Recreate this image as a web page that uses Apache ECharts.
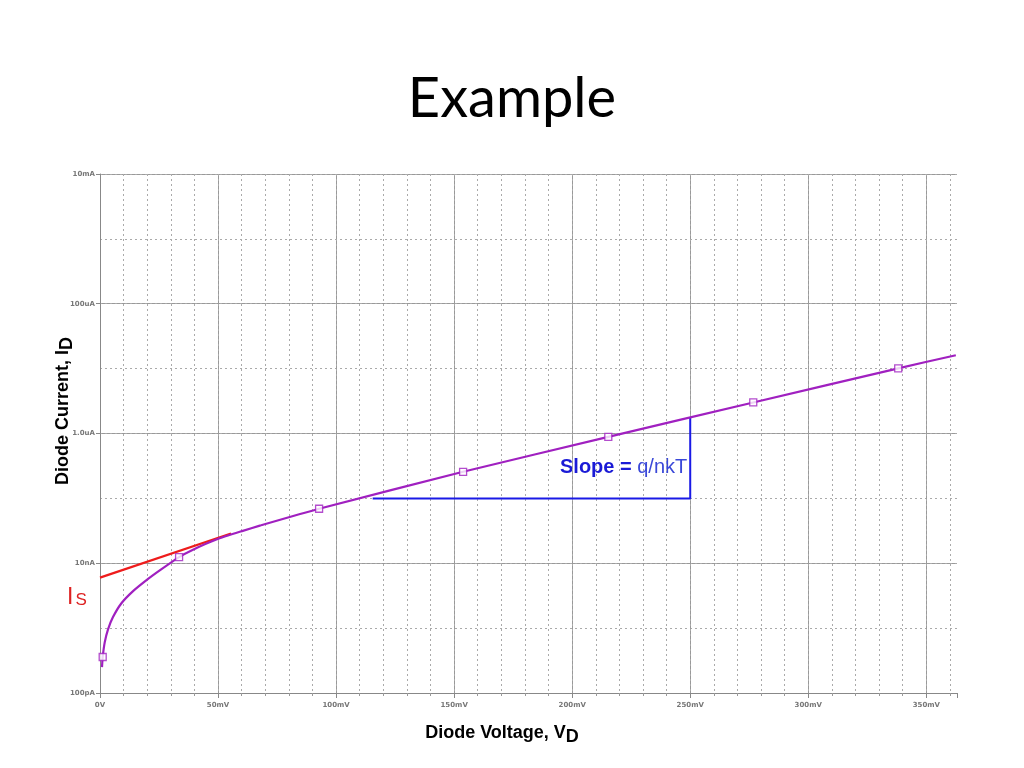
<!DOCTYPE html>
<html>
<head>
<meta charset="utf-8">
<script src="https://cdn.jsdelivr.net/npm/echarts@6/dist/echarts.min.js"></script>
<style>
html,body{margin:0;padding:0;background:#fff;}
#chart{width:1024px;height:768px;}
</style>
</head>
<body>
<div id="chart"></div>
<script>
// Data (voltage in mV, current in A)
const voltages = [0.85, 1.14, 2.0, 3.4, 5.5, 9.0, 14.0, 19.7, 25.3, 33.5, 39.4, 49.3, 60.5, 67.7, 92.8, 153.8, 215.3, 276.7, 338.1, 362.5];
const currents = [2.51e-10, 3.59e-10, 6.03e-10, 9.55e-10, 1.48e-9, 2.40e-9, 3.72e-9, 5.50e-9, 7.76e-9, 1.245e-8, 1.62e-8, 2.32e-8, 3.16e-8, 3.80e-8, 6.92e-8, 2.57e-7, 8.89e-7, 3.01e-6, 1.01e-5, 1.61e-5];
const markerIndices = [1, 9, 14, 15, 16, 17, 18];
// Is extrapolation line (tangent)
const isLineV = [0, 55.5];
const isLineI = [6.0e-9, 2.87e-8];
// Slope triangle
const slopeV = [115.5, 250, 250];
const slopeI = [1.0e-7, 1.0e-7, 1.79e-6];
const xTickLabels = ['0V', '50mV', '100mV', '150mV', '200mV', '250mV', '300mV', '350mV'];
const yTickLabels = {'-10': '100pA', '-8': '10nA', '-6': '1.0uA', '-4': '100uA', '-2': '10mA'};

const curve = voltages.map((v, i) => [v, currents[i]]);
const markers = markerIndices.map(i => [voltages[i], currents[i]]);
const isLine = isLineV.map((v, i) => [v, isLineI[i]]);
const slopeLine = slopeV.map((v, i) => [v, slopeI[i]]);

const chart = echarts.init(document.getElementById('chart'));
const tickFont = {fontSize: 7, fontWeight: 'bold', color: '#777', fontFamily: 'DejaVu Sans'};
chart.setOption({
  animation: false,
  backgroundColor: '#fff',
  title: {
    text: 'Example', left: 'center', top: 66,
    textStyle: {fontFamily: 'Lato', fontWeight: 'normal', fontSize: 56, color: '#000'}
  },
  grid: {left: 100, right: 67, top: 174, bottom: 75},
  xAxis: [{
    type: 'value', min: 0, max: 363, interval: 50,
    axisLine: {lineStyle: {color: '#888'}},
    axisTick: {show: true, length: 5, lineStyle: {color: '#888'}},
    minorTick: {show: true, splitNumber: 5, length: 3, lineStyle: {color: '#999'}},
    axisLabel: Object.assign({margin: 9, showMaxLabel: false,
      formatter: v => (Math.abs(v % 50) < 1e-6 ? xTickLabels[Math.round(v / 50)] : '')}, tickFont),
    splitLine: {show: true, showMaxLine: false, lineStyle: {color: '#999', width: 1}}
  }, {
    type: 'value', min: 0, max: 363, interval: 10, position: 'top',
    axisLine: {show: false}, axisTick: {show: false}, axisLabel: {show: false},
    splitLine: {show: true, showMaxLine: false, lineStyle: {color: '#aaa', width: 1, type: [2, 3]}}
  }],
  yAxis: [{
    type: 'log', logBase: 10, min: 1e-10, max: 1e-2, interval: 2,
    axisLine: {show: true, lineStyle: {color: '#888'}},
    axisTick: {show: true, length: 4, lineStyle: {color: '#888'}},
    axisLabel: Object.assign({margin: 5, formatter: v => yTickLabels[String(Math.round(Math.log10(v)))] || ''}, tickFont),
    splitLine: {show: true, lineStyle: {color: '#999', width: 1}}
  }, {
    type: 'log', logBase: 10, min: 1e-10, max: 1e-2, interval: 1, position: 'right',
    axisLine: {show: false}, axisTick: {show: false}, axisLabel: {show: false},
    splitLine: {show: true, lineStyle: {color: '#aaa', width: 1, type: [2, 3]}}
  }],
  graphic: [{
    type: 'text', x: 502, y: 733,
    style: {
      text: '{a|Diode Voltage, V}{b|D}', align: 'center', verticalAlign: 'middle',
      rich: {
        a: {fontFamily: 'Liberation Sans', fontWeight: 'bold', fontSize: 18, fill: '#000'},
        b: {fontFamily: 'Liberation Sans', fontWeight: 'bold', fontSize: 18, fill: '#000', padding: [9, 0, 0, 0]}
      }
    }
  }, {
    type: 'text', x: 63, y: 411, rotation: Math.PI / 2,
    style: {
      text: '{a|Diode Current, I}{b|D}', align: 'center', verticalAlign: 'middle',
      rich: {
        a: {fontFamily: 'Liberation Sans', fontWeight: 'bold', fontSize: 18, fill: '#000'},
        b: {fontFamily: 'Liberation Sans', fontWeight: 'bold', fontSize: 18, fill: '#000', padding: [9, 0, 0, 0]}
      }
    }
  }, {
    type: 'text', left: 560, top: 457,
    style: {
      text: '{a|Slope = }{b|q/nkT}',
      rich: {
        a: {fontFamily: 'Liberation Sans', fontWeight: 'bold', fontSize: 20, fill: '#1a1ad6'},
        b: {fontFamily: 'Liberation Sans', fontSize: 20, fill: '#3a48d8'}
      }
    }
  }, {
    type: 'text', left: 67, top: 586,
    style: {
      text: '{a|I}{b|S}',
      rich: {
        a: {fontFamily: 'Liberation Sans', fontSize: 23, fill: '#dd2222'},
        b: {fontFamily: 'Liberation Sans', fontSize: 17, fill: '#dd2222', padding: [5, 0, 0, 2]}
      }
    }
  }],
  series: [{
    type: 'line', name: 'Is', data: isLine, showSymbol: false,
    lineStyle: {color: '#ee1c1c', width: 2.2}, z: 3
  }, {
    type: 'line', name: 'ID', data: curve, showSymbol: false, smooth: 0.2,
    lineStyle: {color: '#a020c0', width: 2.2}, z: 4
  }, {
    type: 'scatter', name: 'markers', data: markers, symbol: 'rect', symbolSize: 7,
    itemStyle: {color: '#fff', borderColor: '#a020c0', borderWidth: 1.3}, z: 5
  }, {
    type: 'line', name: 'slope', data: slopeLine, showSymbol: false,
    lineStyle: {color: '#1a1ae6', width: 2}, z: 3
  }]
});
</script>
</body>
</html>
